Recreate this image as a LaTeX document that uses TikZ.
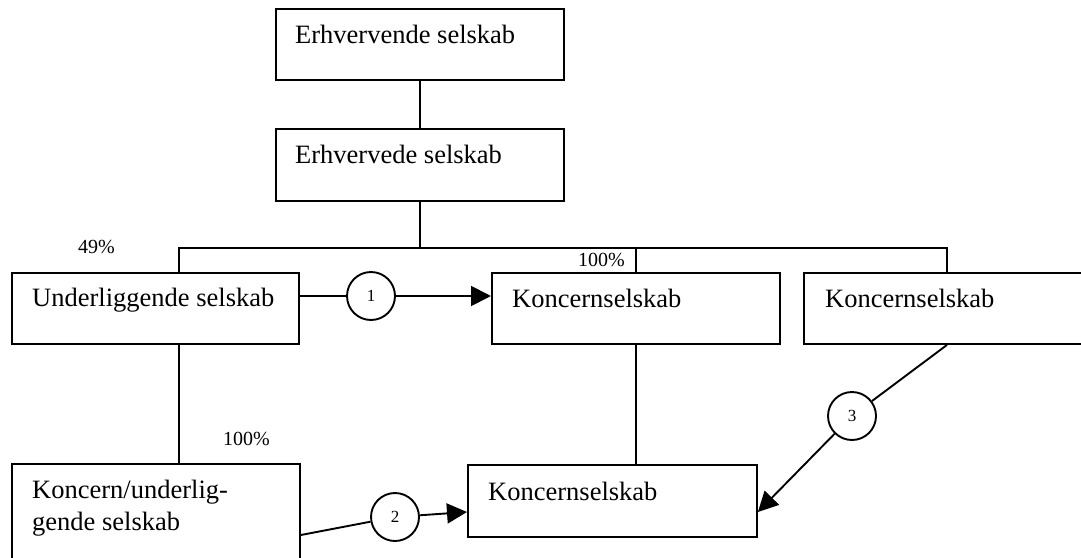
\documentclass[tikz,border=0pt]{standalone}
\usepackage{fontspec}
\setmainfont{Liberation Serif}
\usetikzlibrary{shapes,arrows.meta,positioning}
\tikzstyle{boks} = [rectangle, draw, line width=1.9pt, anchor=north west,
    inner sep=0pt, minimum height=72pt]
\tikzstyle{boktekst} = [anchor=base west, inner sep=0pt, align=left,
    font=\fontsize{26.5}{32}\selectfont]
\tikzstyle{pct} = [anchor=base west, inner sep=0pt,
    font=\fontsize{20}{24}\selectfont]
\tikzstyle{ring} = [circle, draw, line width=1.9pt, minimum size=48pt,
    inner sep=0pt, font=\fontsize{17}{17}\selectfont]
\tikzstyle{line} = [draw, line width=1.9pt]
\tikzstyle{pil} = [draw, line width=1.9pt, -{Triangle[length=20pt,width=20pt]}]

\begin{document}
\begin{tikzpicture}[x=1pt, y=-1pt]
    \useasboundingbox (0,0) rectangle (1081,557);
    % Place nodes
    \node [boks, minimum width=288pt, minimum height=71pt] (erhvervende) at (275,8) {};
    \node [boks, minimum width=288pt] (erhvervede) at (275,128) {};
    \node [boks, minimum width=287pt, minimum height=71pt] (underliggende) at (11,272) {};
    \node [boks, minimum width=288pt, minimum height=71pt] (koncernA) at (491,272) {};
    \node [boks, minimum width=300pt, minimum height=71pt] (koncernB) at (803,272) {};
    \node [boks, minimum width=288pt, minimum height=100pt] (koncernunder) at (11,463) {};
    \node [boks, minimum width=289pt] (koncernC) at (467,464) {};
    % Texts in the boxes
    \node [boktekst] (erhvervende-txt) at ([xshift=20pt,yshift=-35pt]erhvervende.north west) {Erhvervende selskab};
    \node [boktekst] (erhvervede-txt) at ([xshift=20pt,yshift=-35pt]erhvervede.north west) {Erhvervede selskab};
    \node [boktekst] (underliggende-txt) at ([xshift=21pt,yshift=-34pt]underliggende.north west) {Underliggende selskab};
    \node [boktekst] (koncernA-txt) at ([xshift=21pt,yshift=-35pt]koncernA.north west) {Koncernselskab};
    \node [boktekst] (koncernB-txt) at ([xshift=22pt,yshift=-35pt]koncernB.north west) {Koncernselskab};
    \node [boktekst] (koncernC-txt) at ([xshift=21pt,yshift=-36pt]koncernC.north west) {Koncernselskab};
    \node [boktekst] (koncernunder-txt) at ([xshift=21pt,yshift=-67pt]koncernunder.north west) {Koncern/underlig-\\gende selskab};
    % Percentages
    \node [pct] (p49) at (78,253) {49\%};
    \node [pct] (p100top) at (578,266) {100\%};
    \node [pct] (p100left) at (223,445) {100\%};
    % Numbered circles
    \node [ring] (c1) at (371,296) {1};
    \node [ring] (c2) at (395,517) {2};
    \node [ring] (c3) at (852,416) {3};
    % Draw edges
    \coordinate (bus) at (erhvervede.south |- 0,248);
    \path [line] (erhvervende) -- (erhvervede);
    \path [line] (erhvervede) -- (bus);
    \path [line] ([xshift=168pt]underliggende.north west) |- (bus) -| ([xshift=144pt]koncernB.north west);
    \path [line] (koncernA) -- (koncernA |- bus);
    \path [line] ([xshift=168pt]underliggende.south west) -- ([xshift=168pt]koncernunder.north west);
    \path [line] (koncernA) -- (koncernA |- koncernC.north);
    \path [line] ([yshift=-24pt]underliggende.north east) -- (c1);
    \path [pil] (c1) -- ([yshift=-24pt]koncernA.north west);
    \path [line] ([yshift=-72pt]koncernunder.north east) -- (c2);
    \path [pil] (c2) -- ([yshift=-48pt]koncernC.north west);
    \path [line] ([xshift=144pt]koncernB.south west) -- (c3);
    \path [pil] (c3) -- ([yshift=-48pt]koncernC.north east);
\end{tikzpicture}
\end{document}
